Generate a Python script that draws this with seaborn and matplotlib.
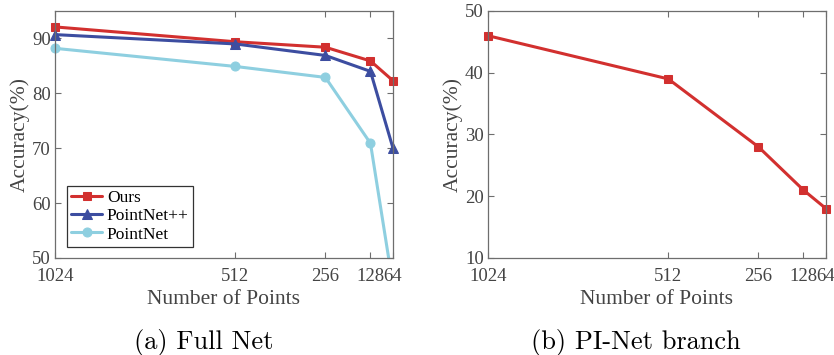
import numpy as np
import pandas as pd
import matplotlib
matplotlib.use("Agg")
import matplotlib.pyplot as plt
import seaborn as sns
from matplotlib.transforms import Bbox, TransformedBbox

# ---- data ----
points = [1024, 512, 256, 128, 64]
tick_labels = ["1024", "512", "256", "128", "64"]
ours = [92.1, 89.4, 88.4, 85.9, 82.3]
pointnet2 = [90.7, 89.0, 86.9, 84.0, 70.0]
pointnet = [88.2, 84.9, 82.9, 70.9, 45.0]
pinet_branch = [46.0, 39.0, 28.0, 21.0, 18.0]

series_names = ["Ours", "PointNet++", "PointNet"]
colors = ["#d2302f", "#3c4da0", "#8ecfe0"]
markers = ["s", "^", "o"]
msizes = [6, 7.5, 6.5]

sns.set_style("ticks")
plt.rcParams["font.family"] = ["Liberation Serif", "DejaVu Serif"]
plt.rcParams["mathtext.fontset"] = "cm"

spine_c = "#6e6e6e"
text_c = "#444444"

fig = plt.figure(figsize=(8.34, 3.55), dpi=100)
W, H = 834, 355
ax1 = fig.add_axes([55 / W, (H - 258) / H, (393 - 55) / W, (258 - 11) / H])
ax2 = fig.add_axes([488 / W, (H - 258) / H, (826 - 488) / W, (258 - 11) / H])

df = pd.DataFrame({
    "points": points * 3,
    "acc": ours + pointnet2 + pointnet,
    "method": [n for n in series_names for _ in points],
})

for name, c, m, ms in zip(series_names, colors, markers, msizes):
    sub = df[df["method"] == name]
    sns.lineplot(data=sub, x="points", y="acc", ax=ax1, color=c, marker=m,
                 markersize=ms, linewidth=2.2, label=name,
                 markeredgecolor=c, sort=False)

sns.lineplot(x=points, y=pinet_branch, ax=ax2, color=colors[0], marker="s",
             markersize=6, linewidth=2.2, markeredgecolor=colors[0], sort=False)

for ax in (ax1, ax2):
    ax.set_xlim(1024, 64)
    ax.set_xticks(points)
    ax.set_xticklabels(tick_labels)
    ax.set_xlabel("Number of Points", fontsize=15.5, color=text_c, labelpad=3)
    ax.set_ylabel("Accuracy(%)", fontsize=15.5, color=text_c, labelpad=2)
    ax.tick_params(direction="in", top=True, right=True, length=4, width=0.8,
                   colors=spine_c, labelcolor=text_c, labelsize=13.5)
    ax.tick_params(axis="x", pad=7.5)
    ax.tick_params(axis="y", pad=3)
    for s in ax.spines.values():
        s.set_visible(True)
        s.set_color(spine_c)
        s.set_linewidth(0.9)
    # allow markers at the edges to overflow horizontally, but clip vertically
    clipbox = TransformedBbox(Bbox([[-0.05, 0.0], [1.05, 1.05]]), ax.transAxes)
    for ln in ax.get_lines():
        ln.set_clip_box(clipbox)

ax1.set_ylim(50, 95)
ax1.set_yticks([50, 60, 70, 80, 90])
ax2.set_ylim(10, 50)
ax2.set_yticks([10, 20, 30, 40, 50])

leg = ax1.legend(loc="lower left", bbox_to_anchor=(0.035, 0.045), fontsize=12.5,
                 frameon=True, fancybox=False, edgecolor="black",
                 handlelength=1.8, handletextpad=0.25, borderpad=0.25,
                 labelspacing=0.12, borderaxespad=0.0)
leg.get_frame().set_linewidth(0.9)
for t in leg.get_texts():
    t.set_color("black")

fig.text(204 / W, 1 - 343 / H, "(a) Full Net", ha="center", va="center",
         fontsize=19, family="cmr10", color="black")
fig.text(636 / W, 1 - 343 / H, "(b) PI-Net branch", ha="center", va="center",
         fontsize=19, family="cmr10", color="black")

fig.savefig("out.png", dpi=100)
